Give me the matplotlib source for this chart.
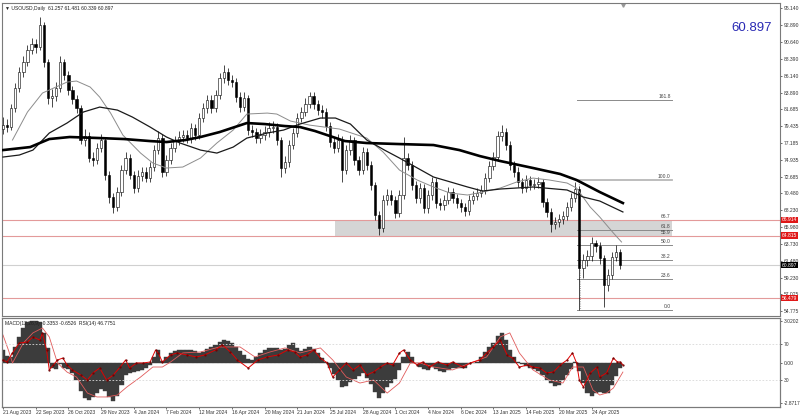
import numpy as np
import matplotlib
matplotlib.use('Agg')
import matplotlib.pyplot as plt
from matplotlib.transforms import blended_transform_factory

plt.rcParams['font.family'] = ['Liberation Sans', 'DejaVu Sans']

# ---------------- data ----------------
STEP = 3  # trading days per candle
first_open = 79.0
close = [79.55, 79.29, 81.82, 84.48, 86.61, 87.95, 89.55, 90.34, 89.94, 92.88,
         87.95, 83.15, 83.42, 84.48, 87.95, 86.21, 84.22, 83.02, 81.82, 77.56,
         78.09, 75.16, 74.89, 76.49, 77.56, 72.89, 69.96, 68.63, 70.63, 73.56,
         75.16, 72.89, 71.16, 72.76, 73.29, 72.49, 73.96, 76.22, 77.82, 73.29,
         74.89, 76.49, 77.42, 77.96, 78.22, 77.82, 79.15, 78.22, 80.49, 81.82,
         82.88, 81.82, 83.55, 85.82, 86.61, 85.55, 85.28, 83.28, 81.95, 83.15,
         78.89, 78.62, 77.82, 78.22, 78.62, 79.15, 79.29, 77.56, 73.83, 74.63,
         76.89, 78.49, 80.49, 81.29, 82.35, 83.42, 82.35, 81.55, 81.29, 79.42,
         77.29, 76.49, 77.56, 73.56, 76.22, 77.56, 74.89, 73.56, 75.96, 74.23,
         71.56, 67.57, 65.83, 69.56, 70.23, 69.60, 67.83, 70.23, 75.16, 74.23,
         71.56, 69.83, 71.16, 68.50, 70.23, 71.96, 69.16, 68.90, 69.56, 70.63,
         69.83, 69.16, 68.63, 68.10, 69.56, 70.10, 70.50, 70.90, 72.49, 74.09,
         75.29, 78.09, 78.62, 76.89, 74.23, 73.29, 71.96, 71.16, 72.23, 71.56,
         71.69, 71.90, 69.30, 67.97, 66.37, 66.63, 67.03, 67.43, 68.63, 69.83,
         71.03, 60.51, 61.57, 62.10, 63.84, 63.44, 61.84, 58.24, 59.57, 61.97,
         62.64, 60.897]
high = [80.6, 80.3, 82.4, 85.1, 87.3, 88.7, 90.2, 91.2, 91.0, 93.9,
        93.3, 88.4, 84.3, 85.3, 88.8, 88.4, 86.8, 84.8, 83.6, 82.2,
        79.0, 78.6, 75.9, 77.2, 78.4, 78.0, 73.4, 70.5, 71.3, 74.2,
        75.9, 75.7, 73.4, 73.5, 74.0, 73.9, 74.6, 76.9, 78.8, 78.3,
        75.6, 77.1, 78.1, 78.7, 78.9, 78.9, 79.8, 79.7, 81.1, 82.5,
        83.6, 83.5, 84.2, 86.5, 87.5, 87.2, 86.2, 85.8, 83.9, 83.9,
        83.6, 79.6, 79.2, 79.0, 79.4, 79.9, 80.1, 79.8, 78.0, 75.4,
        77.6, 79.2, 81.2, 82.0, 83.2, 84.0, 83.9, 82.9, 82.2, 81.8,
        79.9, 77.9, 78.3, 78.1, 76.9, 78.2, 78.0, 75.4, 76.6, 76.5,
        74.8, 72.0, 68.1, 70.2, 71.0, 70.9, 70.1, 70.9, 77.9, 75.8,
        74.8, 72.1, 71.8, 71.7, 70.9, 72.6, 72.5, 69.8, 70.2, 71.3,
        71.2, 70.4, 69.7, 69.2, 70.2, 70.8, 71.2, 71.6, 73.1, 74.8,
        76.0, 78.8, 79.6, 79.2, 77.4, 74.8, 73.9, 72.5, 72.9, 72.8,
        72.4, 72.6, 72.4, 69.8, 68.5, 67.3, 67.7, 68.1, 69.3, 70.5,
        71.9, 71.4, 62.4, 62.9, 64.6, 64.3, 64.0, 62.3, 60.4, 62.7,
        63.6, 63.0]
low = [78.4, 78.6, 78.9, 81.3, 84.0, 86.0, 87.4, 89.0, 89.2, 89.5,
       87.3, 82.3, 82.0, 82.8, 84.0, 85.5, 83.6, 82.4, 81.1, 77.0,
       76.8, 74.6, 74.1, 74.3, 75.9, 72.2, 69.2, 67.9, 68.1, 70.1,
       73.0, 72.3, 70.5, 70.6, 72.1, 71.9, 72.0, 73.4, 75.7, 72.6,
       72.7, 74.3, 75.9, 76.9, 77.3, 77.1, 77.2, 77.6, 77.7, 80.0,
       81.2, 81.2, 81.3, 83.0, 85.2, 84.9, 84.6, 82.6, 81.3, 81.4,
       78.2, 77.9, 77.1, 77.2, 77.6, 78.0, 78.5, 76.9, 72.6, 73.1,
       74.0, 76.3, 78.0, 79.9, 80.7, 81.8, 81.7, 80.9, 80.5, 78.8,
       76.6, 75.8, 75.9, 71.9, 73.0, 75.6, 74.2, 72.9, 73.0, 73.6,
       70.9, 66.9, 64.9, 65.3, 68.9, 68.9, 67.2, 67.3, 69.7, 73.6,
       70.9, 69.2, 69.2, 67.8, 67.9, 69.6, 68.5, 68.2, 68.3, 69.0,
       69.2, 68.5, 68.0, 67.4, 67.6, 69.0, 69.5, 69.9, 70.3, 71.9,
       73.5, 74.8, 77.4, 76.2, 73.6, 72.6, 71.3, 70.5, 70.6, 70.9,
       71.0, 71.1, 68.7, 67.3, 65.3, 65.7, 66.0, 66.4, 66.9, 68.1,
       69.3, 54.9, 59.2, 60.8, 61.5, 62.6, 61.1, 55.3, 57.5, 59.0,
       61.5, 60.339]

# moving averages (bar index, price)
ma_slow_x = [0, 20, 34, 49, 71, 89, 108, 120, 134, 145, 159, 179, 192, 207, 218,
             229, 240, 251, 267, 291, 316, 335, 350, 365, 389, 409, 421, 438, 455]
ma_slow_y = [76.22, 76.62, 77.69, 77.96, 77.82, 77.69, 77.42, 77.29, 77.56, 77.96,
             78.62, 79.82, 79.69, 79.42, 79.29, 78.76, 78.09, 77.42, 77.16, 77.02,
             76.89, 76.22, 75.42, 74.76, 73.83, 73.03, 72.23, 70.63, 69.16]
ma_mid_x = [0, 12, 22, 34, 47, 59, 71, 84, 95, 108, 120, 130, 145, 157, 169, 179,
            194, 206, 218, 233, 244, 255, 267, 280, 291, 316, 341, 352, 365, 389,
            414, 426, 438, 455]
ma_mid_y = [75.29, 75.56, 76.22, 78.49, 79.82, 81.29, 81.95, 81.55, 80.62, 79.29,
            77.96, 77.16, 76.22, 75.82, 76.62, 77.82, 78.49, 78.89, 79.69, 80.49,
            80.49, 79.69, 77.56, 76.22, 75.16, 72.63, 71.30, 70.76, 71.03, 71.30,
            70.90, 69.96, 69.43, 67.97]
ma_fast_x = [7, 18, 29, 47, 54, 64, 71, 79, 88, 101, 110, 120, 132, 145, 157, 169,
             179, 194, 201, 211, 225, 247, 267, 279, 291, 304, 316, 328, 341, 352,
             365, 377, 389, 401, 414, 421, 431, 438, 448, 454]
ma_fast_y = [77.56, 81.29, 83.82, 85.28, 85.42, 84.62, 83.28, 81.15, 78.22, 75.82,
             74.49, 73.83, 73.96, 75.16, 77.16, 78.89, 81.02, 81.15, 81.02, 80.09,
             79.55, 79.02, 77.82, 75.96, 73.56, 72.23, 71.30, 70.50, 70.23, 70.63,
             71.16, 71.96, 72.49, 72.23, 71.83, 71.16, 68.63, 67.30, 65.17, 63.97]

# MACD histogram, one value per candle
macd = [0.93, 0.50, 0.43, 1.15, 1.87, 2.51, 2.95, 3.02, 3.00, 2.95,
        2.16, 1.08, -0.36, -0.43, -0.07, -0.36, -0.43, -0.72, -1.22, -2.01,
        -2.51, -2.66, -2.44, -2.16, -1.87, -2.01, -2.44, -2.73, -2.37, -1.58,
        -0.86, -0.72, -0.65, -0.57, -0.50, -0.36, -0.14, 0.43, 0.93, 0.14,
        0.43, 0.72, 0.86, 0.93, 0.93, 0.93, 0.93, 0.86, 0.72, 0.79,
        1.01, 1.15, 1.29, 1.51, 1.65, 1.58, 1.44, 1.15, 0.86, 0.57,
        0.29, 0.22, 0.43, 0.72, 0.93, 1.08, 1.08, 1.08, 0.93, 1.01,
        1.29, 1.44, 1.08, 0.86, 1.01, 1.15, 1.01, 0.72, 0.36, 0.07,
        -0.36, -0.79, -1.22, -1.72, -1.65, -1.36, -1.15, -0.93, -0.72, -1.08,
        -1.51, -2.08, -2.51, -2.16, -1.72, -1.44, -1.15, -0.50, 0.43, 0.79,
        0.43, -0.02, -0.29, -0.43, -0.50, -0.29, -0.43, -0.57, -0.65, -0.50,
        -0.36, -0.36, -0.36, -0.36, -0.07, 0.02, 0.07, 0.43, 0.79, 1.15,
        1.44, 1.94, 2.16, 1.65, 0.93, 0.43, 0.07, -0.07, -0.22, -0.36,
        -0.43, -0.57, -0.86, -1.22, -1.44, -1.65, -1.58, -1.22, -0.86, -0.43,
        0.07, -0.57, -1.44, -2.16, -2.37, -2.16, -2.08, -2.16, -2.16, -1.58,
        -0.93, -0.3353]
signal_x = [0, 4, 7, 15, 22, 29, 34, 40, 47, 54, 62, 69, 76, 84, 91, 101, 110, 117,
            123, 132, 145, 159, 174, 185, 196, 207, 218, 233, 242, 252, 262, 272,
            282, 291, 299, 306, 316, 330, 345, 355, 365, 372, 379, 389, 401, 411,
            418, 426, 433, 438, 443, 448, 455]
signal_y = [2.01, 0.93, 0.00, 1.44, 2.16, 2.51, 1.87, 0.00, -0.65, -1.01, -2.16,
            -2.44, -2.44, -2.30, -1.72, -1.01, -0.29, -0.29, 0.07, 0.72, 0.79, 1.15,
            1.15, 0.43, 0.79, 1.08, 0.72, 1.08, 0.22, -1.01, -1.44, -1.22, -2.16,
            -1.44, 0.00, 0.00, -0.29, -0.50, 0.07, 0.43, 1.87, 2.16, 0.72, -0.50,
            -1.22, -1.44, -0.29, -0.29, -1.94, -2.30, -2.16, -1.80, -0.6526]
rsi_x = [0, 3, 7, 12, 18, 22, 27, 29, 32, 34, 37, 40, 44, 47, 51, 57, 62, 66, 71,
         76, 81, 86, 90, 93, 98, 103, 108, 112, 114, 117, 123, 128, 135, 142, 148,
         156, 161, 167, 172, 180, 187, 194, 202, 209, 214, 218, 223, 228, 233, 238,
         242, 247, 252, 257, 262, 267, 272, 277, 282, 286, 291, 294, 299, 304, 308,
         313, 319, 326, 330, 338, 343, 350, 355, 360, 365, 370, 374, 379, 385, 389,
         394, 399, 404, 409, 414, 418, 421, 423, 426, 431, 436, 438, 443, 448, 451,
         453, 455]
rsi_y = [52.2, 50.0, 60.0, 71.1, 72.2, 77.8, 74.4, 82.2, 63.3, 41.1, 46.7, 52.2,
         54.4, 46.7, 41.1, 35.6, 30.0, 37.8, 43.3, 30.0, 35.6, 44.4, 52.2, 43.3,
         48.9, 48.9, 50.0, 63.3, 60.0, 50.0, 57.8, 60.0, 57.8, 55.6, 57.8, 63.3,
         68.9, 61.1, 52.2, 43.3, 52.2, 55.6, 57.8, 63.3, 61.1, 55.6, 57.8, 63.3,
         54.4, 48.9, 33.3, 41.1, 48.9, 41.1, 46.7, 35.6, 38.9, 44.4, 48.9, 46.7,
         60.0, 63.3, 52.2, 46.7, 50.0, 44.4, 50.0, 46.7, 50.0, 44.4, 48.9, 52.2,
         60.0, 66.7, 74.4, 57.8, 54.4, 44.4, 46.7, 44.4, 43.3, 37.8, 38.9, 46.7,
         52.2, 60.0, 48.9, 30.0, 22.2, 37.8, 44.4, 33.3, 37.8, 54.4, 50.0, 50.0,
         46.78]

date_labels = ['21 Aug 2023', '22 Sep 2023', '26 Oct 2023', '29 Nov 2023', '4 Jan 2024',
               '7 Feb 2024', '12 Mar 2024', '16 Apr 2024', '20 May 2024', '21 Jun 2024',
               '25 Jul 2024', '28 Aug 2024', '1 Oct 2024', '4 Nov 2024', '6 Dec 2024',
               '13 Jan 2025', '14 Feb 2025', '20 Mar 2025', '24 Apr 2025']
price_ticks = [95.140, 92.890, 90.640, 88.390, 86.140, 83.890, 81.685, 79.435, 77.185,
               74.935, 72.685, 70.480, 68.230, 65.980, 63.730, 61.480, 59.230, 57.025,
               54.775]
red_levels = [66.914, 64.815, 56.479]
last_price = 60.897
zone_bars = [244, 491]
fib_bars = [421, 491]
fib_low, fib_high = 54.91, 72.24
fib_levels = [0.0, 23.6, 38.2, 50.0, 61.8, 100.0, 161.8]
zone_marks = [(66.914, '66.7'), (64.815, '55.9')]

FS = 3.6  # small MT4-like label size

# ---------------- figure ----------------
fig = plt.figure(figsize=(8, 4.15), dpi=100)
ax1 = fig.add_axes([0.0025, 0.2386, 0.9725, 0.754])
ax2 = fig.add_axes([0.0025, 0.0193, 0.9725, 0.2145], sharex=ax1)

close = np.array(close)
opens = np.array([first_open] + list(close[:-1]))
x = np.arange(len(close)) * STEP
up = close >= opens

# zone + levels
ax1.fill_between(zone_bars, red_levels[1], red_levels[0], color='#d5d5d5', lw=0, zorder=0)
for p in red_levels:
    ax1.axhline(p, color='#e39a9a', lw=0.8, zorder=1)
ax1.axhline(last_price, color='#d0d0d0', lw=0.8, zorder=1)

# fibonacci
rng = fib_high - fib_low
for lv in fib_levels:
    p = fib_low + rng * lv / 100
    c = '#b8b8b8' if lv == 100.0 else '#8a8a8a'
    ax1.plot(fib_bars, [p, p], color=c, lw=1.3 if lv == 100.0 else 0.7, zorder=1)
    ax1.text(fib_bars[1] - 1, p + 0.12, f'{lv:.1f}', fontsize=FS, ha='right', va='bottom',
             color='#444444')
for p, lab in zone_marks:
    ax1.text(fib_bars[1] - 1, p + 0.12, lab, fontsize=FS, ha='right', va='bottom', color='#444444')
ax1.plot([fib_bars[0] + 2, fib_bars[0] + 3], [fib_high, fib_low], color='#888888', lw=0.6,
         ls=':', zorder=1)

# candles
ax1.vlines(x, low, high, color='black', lw=0.5, zorder=2)
ax1.bar(x[up], (close - opens)[up], bottom=opens[up], width=1.7, color='white',
        edgecolor='black', lw=0.4, zorder=3)
ax1.bar(x[~up], (close - opens)[~up], bottom=opens[~up], width=1.7, color='black',
        edgecolor='black', lw=0.4, zorder=3)

# moving averages
ax1.plot(ma_fast_x, ma_fast_y, color='#8c8c8c', lw=0.7, zorder=4)
ax1.plot(ma_mid_x, ma_mid_y, color='#1a1a1a', lw=0.9, zorder=4)
ax1.plot(ma_slow_x, ma_slow_y, color='black', lw=1.9, zorder=4)

ax1.set_ylim(54.11, 95.81)
ax1.set_xlim(-0.7, 570.3)
ax1.yaxis.tick_right()
ax1.set_yticks(price_ticks)
ax1.set_yticklabels([f'{v:.3f}' for v in price_ticks])
ax1.tick_params(axis='y', labelsize=FS, length=1.5, pad=1, width=0.5, colors='#333333')
ax1.tick_params(axis='x', bottom=False, labelbottom=False)

tr = blended_transform_factory(ax1.transAxes, ax1.transData)
for p in red_levels:
    ax1.text(1.002, p, f'{p:.3f}', transform=tr, fontsize=FS, color='white', va='center',
             ha='left', bbox=dict(boxstyle='square,pad=0.15', fc='#e01818', ec='none'))
ax1.text(1.002, last_price, f'{last_price:.3f}', transform=tr, fontsize=FS, color='white',
         va='center', ha='left', bbox=dict(boxstyle='square,pad=0.15', fc='black', ec='none'))

ax1.text(0.004, 0.99, '▼ USOUSD,Daily  61.257 61.481 60.339 60.897', transform=ax1.transAxes,
         fontsize=FS, va='top', ha='left', color='#222222')
fig.text(752 / 800, 1 - 28 / 415, f'{last_price:.3f}', fontsize=9.5, color='#2a2ab4',
         ha='center', va='center')
ax1.plot([455], [95.6], marker='v', color='#999999', ms=2.5, clip_on=False)

# ---------------- MACD / RSI panel ----------------
ax2.bar(x, macd, width=STEP, color='#3c3c3c', edgecolor='#3c3c3c', lw=0.3, zorder=2)
ax2.plot(signal_x, signal_y, color='#e05a5a', lw=0.6, zorder=3)
ax2.set_ylim(-3.16, 3.23)

ax3 = ax2.twinx()
ax3.set_ylim(0, 98.9)
ax3.axhline(70, color='#d8d8d8', lw=0.6, ls=(0, (2, 2)), zorder=1)
ax3.axhline(30, color='#d8d8d8', lw=0.6, ls=(0, (2, 2)), zorder=1)
ax3.plot(rsi_x, rsi_y, color='#e00000', lw=0.7, marker='.', ms=1.2, mfc='#700000',
         mec='#700000', zorder=4)
ax3.set_yticks([70, 30])
ax3.set_yticklabels(['70', '30'])
ax3.tick_params(axis='y', labelsize=FS, length=1.5, pad=1, width=0.5, colors='#333333')

# twinx moves ax2's ticks to the left, so put them back on the right
ax2.yaxis.tick_right()
ax2.set_yticks([3.0202, 0.0, -2.8717])
ax2.set_yticklabels(['3.0202', '0.00', '-2.8717'])
ax2.tick_params(axis='y', labelsize=FS, length=1.5, pad=1, width=0.5, colors='#333333')

ax2.text(0.004, 0.97, 'MACD(12,26,9) -0.3353 -0.6526  RSI(14) 46.7751', transform=ax2.transAxes,
         fontsize=FS, va='top', ha='left', color='#222222', zorder=6)

ax2.set_xticks(np.arange(len(date_labels)) * 24)
ax2.set_xticklabels(date_labels, ha='left')
ax2.tick_params(axis='x', labelsize=FS, length=1.5, pad=1, width=0.5, colors='#333333')

for a in (ax1, ax2, ax3):
    for s in a.spines.values():
        s.set_color('#7a7a7a')
        s.set_linewidth(0.8)

fig.savefig('out.png', dpi=100, facecolor='white')
